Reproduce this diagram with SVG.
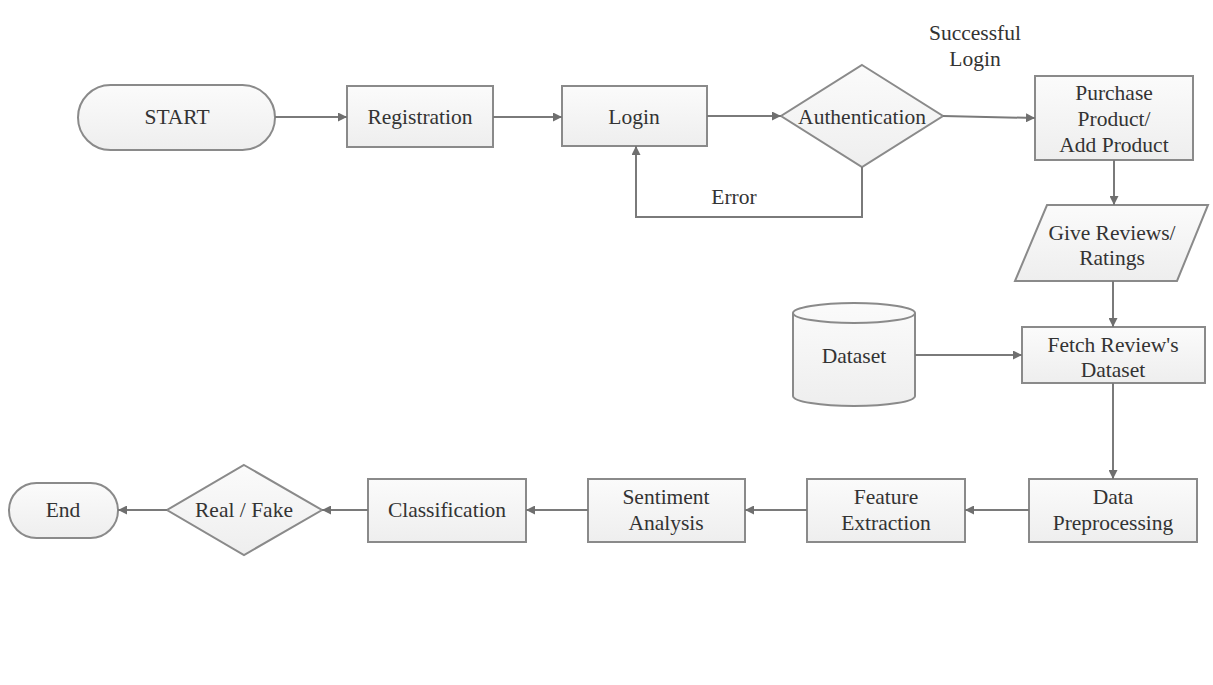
<svg xmlns="http://www.w3.org/2000/svg" width="1213" height="685" viewBox="0 0 1213 685">
<defs>
<linearGradient id="g" x1="0" y1="0" x2="0" y2="1">
<stop offset="0" stop-color="#fbfbfb"/>
<stop offset="1" stop-color="#eeeeee"/>
</linearGradient>
<marker id="ah" viewBox="0 0 10 10" refX="10" refY="5" markerWidth="9" markerHeight="9" markerUnits="userSpaceOnUse" orient="auto">
<path d="M0,0 L10,5 L0,10 z" fill="#6f6f6f"/>
</marker>
<style>
.s{fill:url(#g);stroke:#8a8a8a;stroke-width:2}
.t{font-family:"Liberation Serif","Times New Roman",serif;font-size:21.5px;fill:#333333;text-anchor:middle}
.c{fill:none;stroke:#7a7a7a;stroke-width:2;marker-end:url(#ah)}
.n{fill:none;stroke:#8a8a8a;stroke-width:2}
</style>
</defs>
<rect width="1213" height="685" fill="#ffffff"/>

<g id="start"><rect class="s" x="78" y="85" width="197" height="65" rx="32.5"/><text class="t" x="177" y="124">START</text></g>
<g id="registration"><rect class="s" x="347" y="86" width="146" height="61"/><text class="t" x="420" y="124">Registration</text></g>
<g id="login"><rect class="s" x="562" y="86" width="145" height="60"/><text class="t" x="634" y="124">Login</text></g>
<g id="authentication"><polygon class="s" points="862,65 943,116 862,167 781,116"/><text class="t" x="862" y="124">Authentication</text></g>
<g id="successful-login-label"><text class="t" x="975" y="40">Successful</text><text class="t" x="975" y="66">Login</text></g>
<g id="purchase"><rect class="s" x="1035" y="76" width="158" height="84"/><text class="t" x="1114" y="100">Purchase</text><text class="t" x="1114" y="126">Product/</text><text class="t" x="1114" y="152">Add Product</text></g>
<g id="error-label"><text class="t" x="734" y="204">Error</text></g>
<g id="give-reviews"><polygon class="s" points="1047,205 1208,205 1177,281 1015,281"/><text class="t" x="1112" y="240">Give Reviews/</text><text class="t" x="1112" y="265">Ratings</text></g>
<g id="dataset"><path class="s" d="M793,313 A61,10 0 0 1 915,313 V396 A61,10 0 0 1 793,396 Z"/><path class="n" d="M793,313 A61,10 0 0 0 915,313"/><text class="t" x="854" y="363">Dataset</text></g>
<g id="fetch"><rect class="s" x="1022" y="327" width="183" height="56"/><text class="t" x="1113" y="352">Fetch Review's</text><text class="t" x="1113" y="377">Dataset</text></g>
<g id="preprocessing"><rect class="s" x="1029" y="479" width="168" height="63"/><text class="t" x="1113" y="504">Data</text><text class="t" x="1113" y="530">Preprocessing</text></g>
<g id="feature"><rect class="s" x="807" y="479" width="158" height="63"/><text class="t" x="886" y="504">Feature</text><text class="t" x="886" y="530">Extraction</text></g>
<g id="sentiment"><rect class="s" x="588" y="479" width="157" height="63"/><text class="t" x="666" y="504">Sentiment</text><text class="t" x="666" y="530">Analysis</text></g>
<g id="classification"><rect class="s" x="368" y="479" width="158" height="63"/><text class="t" x="447" y="517">Classification</text></g>
<g id="real-fake"><polygon class="s" points="244,465 322,510 244,555 167,510"/><text class="t" x="244" y="517">Real / Fake</text></g>
<g id="end"><rect class="s" x="9" y="483" width="109" height="55" rx="27.5"/><text class="t" x="63" y="517">End</text></g>

<g id="connectors">
<path class="c" d="M275,117 H347"/>
<path class="c" d="M493,117 H562"/>
<path class="c" d="M707,116 H781"/>
<path class="c" d="M943,116 L1035,118"/>
<path class="c" d="M862,167 V217 H636 V146"/>
<path class="c" d="M1114,160 V205"/>
<path class="c" d="M1113,281 V327"/>
<path class="c" d="M915,355 H1022"/>
<path class="c" d="M1113,383 V479"/>
<path class="c" d="M1029,510 H965"/>
<path class="c" d="M807,510 H745"/>
<path class="c" d="M588,510 H526"/>
<path class="c" d="M368,510 H322"/>
<path class="c" d="M167,510 H118"/>
</g>
</svg>
